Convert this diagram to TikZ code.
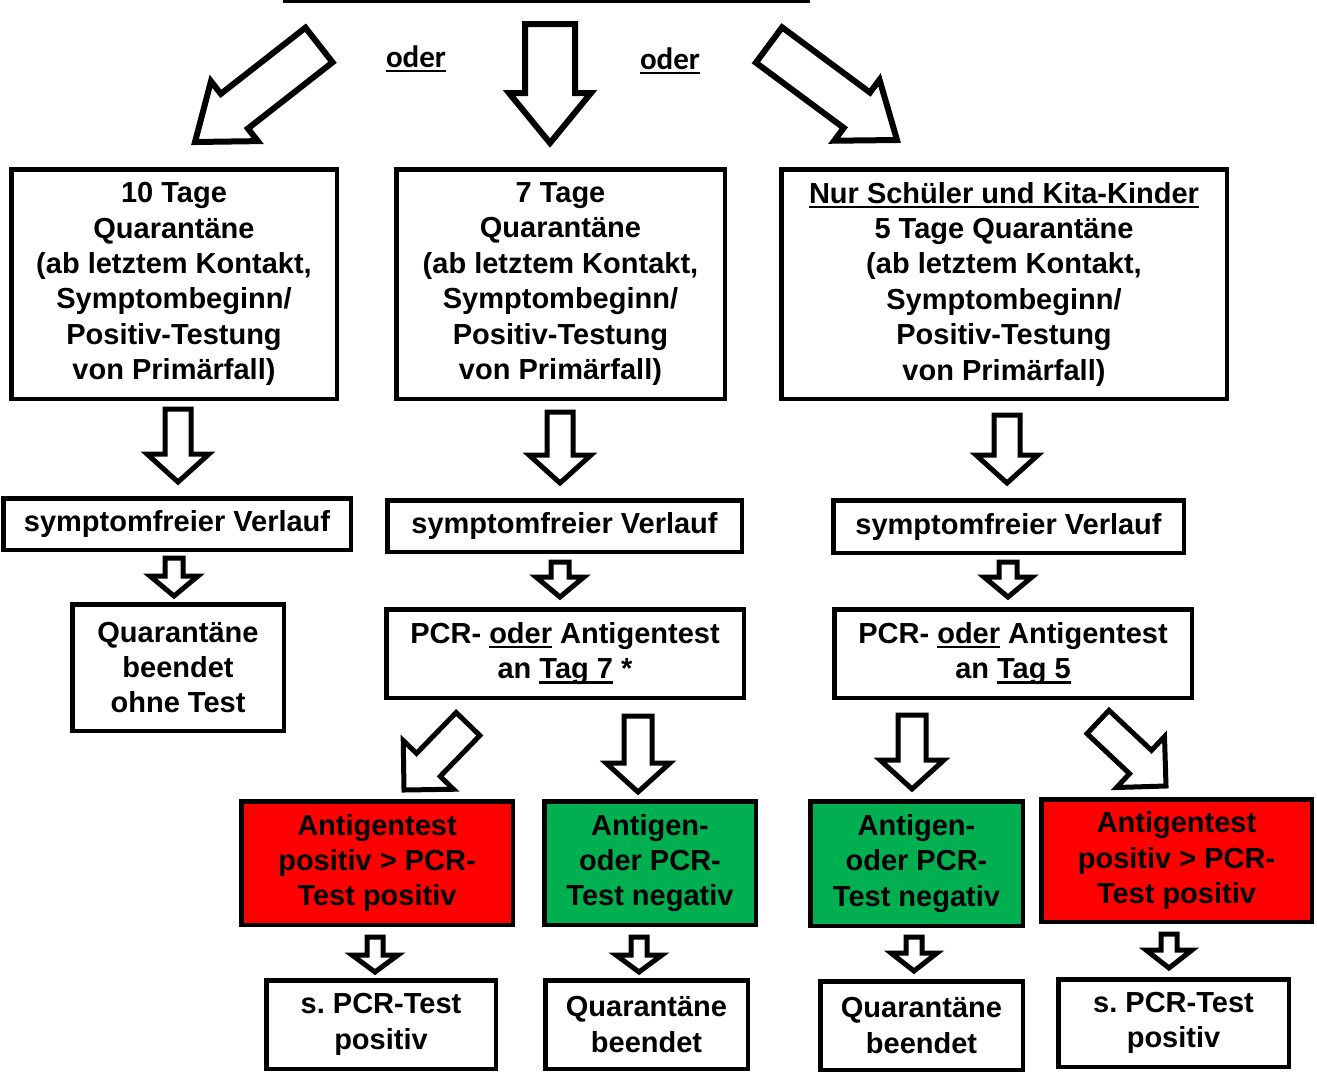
\documentclass[tikz,border=0pt]{standalone}
\usepackage{fontspec}
\setmainfont{Liberation Sans}
\newfontfamily\oderfont{Carlito}
\usetikzlibrary{calc}
\frenchspacing

\newsavebox\ulsave
\newcommand{\ulbar}[1]{\sbox\ulsave{#1}\rlap{\rule[-5pt]{\wd\ulsave}{2.5pt}}\usebox\ulsave}
\newcommand{\boxfont}{\fontsize{29}{35.4}\selectfont\bfseries}
% hollow block arrow: [style]{tail}{tip}{shaft half width}{head half width}{head length}
\newcommand{\fatarrow}[6][]{%
  \path ($(#3)!#6pt!(#2)$) coordinate (fa-b);
  \draw[fat,#1] ($(#2)!#4pt!90:(#3)$) -- ($(fa-b)!#4pt!-90:(#2)$) -- ($(fa-b)!#5pt!-90:(#2)$) -- (#3)
    -- ($(fa-b)!#5pt!90:(#2)$) -- ($(fa-b)!#4pt!90:(#2)$) -- ($(#2)!#4pt!-90:(#3)$) -- cycle;}

\tikzset{
  box/.style={draw, line width=4.5pt, rectangle, align=center, inner sep=0pt, font=\boxfont},
  wh/.style 2 args={minimum width=#1pt, minimum height=#2pt},
  redbox/.style={box, fill=posred},
  greenbox/.style={box, fill=neggreen},
  oderlbl/.style={anchor=base, inner sep=0pt, font=\oderfont\fontsize{31}{36}\selectfont\bfseries},
  fat/.style={draw=black, fill=white, line width=5pt, line join=miter},
}
\definecolor{posred}{HTML}{FF0000}
\definecolor{neggreen}{HTML}{00B050}

\begin{document}
\begin{tikzpicture}[x=1pt,y=-1pt]
  \useasboundingbox (0,0) rectangle (1317,1077);
  % cut-off title underline
  \fill (283,0) rectangle (810,3);

  % Row 1: quarantine options
  \node[box, wh={325.5}{229.5}] (q10) at (174,284) {10 Tage\\Quarant\"ane\\(ab letztem Kontakt,\\Symptombeginn/\\Positiv-Testung\\von Prim\"arfall)};
  \node[box, wh={328.5}{229.5}] (q7) at (560.5,284) {7 Tage\\Quarant\"ane\\(ab letztem Kontakt,\\Symptombeginn/\\Positiv-Testung\\von Prim\"arfall)};
  \node[box, wh={445.5}{229.5}] (q5) at (1004,284) {\ulbar{Nur Sch\"uler und Kita-Kinder}\\5 Tage Quarant\"ane\\(ab letztem Kontakt,\\Symptombeginn/\\Positiv-Testung\\von Prim\"arfall)};

  % Row 2
  \node[box, wh={347.5}{51.5}] (sv10) at (177,524) {symptomfreier Verlauf};
  \node[box, wh={354.5}{51.5}] (sv7) at (564.5,526) {symptomfreier Verlauf};
  \node[box, wh={350.5}{52.5}] (sv5) at (1008.5,526.5) {symptomfreier Verlauf};

  % Row 3
  \node[box, wh={211.5}{126.5}] (end10) at (178,667.5) {Quarant\"ane\\beendet\\ohne Test};
  \node[box, wh={357.5}{88.5}] (pcr7) at (565,653.5) {PCR- \ulbar{oder} Antigentest\\an \ulbar{Tag 7} *};
  \node[box, wh={357.5}{88.5}] (pcr5) at (1013,653.5) {PCR- \ulbar{oder} Antigentest\\an \ulbar{Tag 5}};

  % Row 4: test results
  \node[redbox, wh={271.5}{123.5}] (pos7) at (377,863) {Antigentest\\positiv > PCR-\\Test positiv};
  \node[greenbox, wh={211.5}{123.5}] (neg7) at (650,863) {Antigen-\\oder PCR-\\Test negativ};
  \node[greenbox, wh={212.5}{124.5}] (neg5) at (916.5,863.5) {Antigen-\\oder PCR-\\Test negativ};
  \node[redbox, wh={270.5}{122.5}] (pos5) at (1176.5,860.5) {Antigentest\\positiv > PCR-\\Test positiv};

  % Row 5
  \node[box, wh={229.5}{88.5}] (end7p) at (381,1024.5) {s. PCR-Test\\positiv};
  \node[box, wh={202.5}{88.5}] (end7n) at (646.5,1024.5) {Quarant\"ane\\beendet};
  \node[box, wh={202.5}{88.5}] (end5n) at (921.5,1025.5) {Quarant\"ane\\beendet};
  \node[box, wh={230.5}{87.5}] (end5p) at (1173.5,1023) {s. PCR-Test\\positiv};

  % oder labels
  \node[oderlbl] (oder1) at (416,67) {\ulbar{oder}};
  \node[oderlbl] (oder2) at (670,69) {\ulbar{oder}};

  % arrow ends
  \coordinate (tl0) at (319,45);    \coordinate (tl1) at (195,142);
  \coordinate (tm0) at (550,24);    \coordinate (tm1) at (550,143);
  \coordinate (tr0) at (769,45);    \coordinate (tr1) at (897,140);
  \coordinate (a10) at (178,409);   \coordinate (b10) at (178,482);
  \coordinate (a7) at (560,412);    \coordinate (b7) at (560,483);
  \coordinate (a5) at (1007,415);   \coordinate (b5) at (1007,483);
  \coordinate (c10) at (174,558);   \coordinate (d10) at (174,596);
  \coordinate (c7) at (560,562);    \coordinate (d7) at (560,597);
  \coordinate (c5) at (1008,562);   \coordinate (d5) at (1008,597);
  \coordinate (e7p) at (468,724);   \coordinate (f7p) at (404,790);
  \coordinate (e7n) at (638,716);   \coordinate (f7n) at (638,792);
  \coordinate (e5n) at (912,715);   \coordinate (f5n) at (912,789);
  \coordinate (e5p) at (1098,722);  \coordinate (f5p) at (1166,786);
  \coordinate (g7p) at (375,937);   \coordinate (h7p) at (375,972);
  \coordinate (g7n) at (639,937);   \coordinate (h7n) at (639,972);
  \coordinate (g5n) at (914,937);   \coordinate (h5n) at (914,971);
  \coordinate (g5p) at (1169,934);  \coordinate (h5p) at (1169,968);

  % big top arrows
  \fatarrow[line width=6pt]{tl0}{tl1}{22}{38}{50}
  \fatarrow[line width=6pt]{tm0}{tm1}{25}{41}{50}
  \fatarrow[line width=6pt]{tr0}{tr1}{22}{38}{50}
  % row 1 -> row 2
  \fatarrow{a10}{b10}{13}{31}{28}
  \fatarrow{a7}{b7}{13}{31}{28}
  \fatarrow{a5}{b5}{13}{31}{28}
  % row 2 -> row 3
  \fatarrow{c10}{d10}{9}{24}{20}
  \fatarrow{c7}{d7}{9}{24}{20}
  \fatarrow{c5}{d5}{9}{24}{20}
  % row 3 -> row 4
  \fatarrow{e7p}{f7p}{16.5}{35}{35}
  \fatarrow{e7n}{f7n}{14}{32}{29}
  \fatarrow{e5n}{f5n}{14}{32}{29}
  \fatarrow{e5p}{f5p}{16}{35}{35}
  % row 4 -> row 5
  \fatarrow{g7p}{h7p}{8}{23}{17}
  \fatarrow{g7n}{h7n}{8}{23}{17}
  \fatarrow{g5n}{h5n}{8}{23}{18}
  \fatarrow{g5p}{h5p}{8}{23}{18}
\end{tikzpicture}
\end{document}
